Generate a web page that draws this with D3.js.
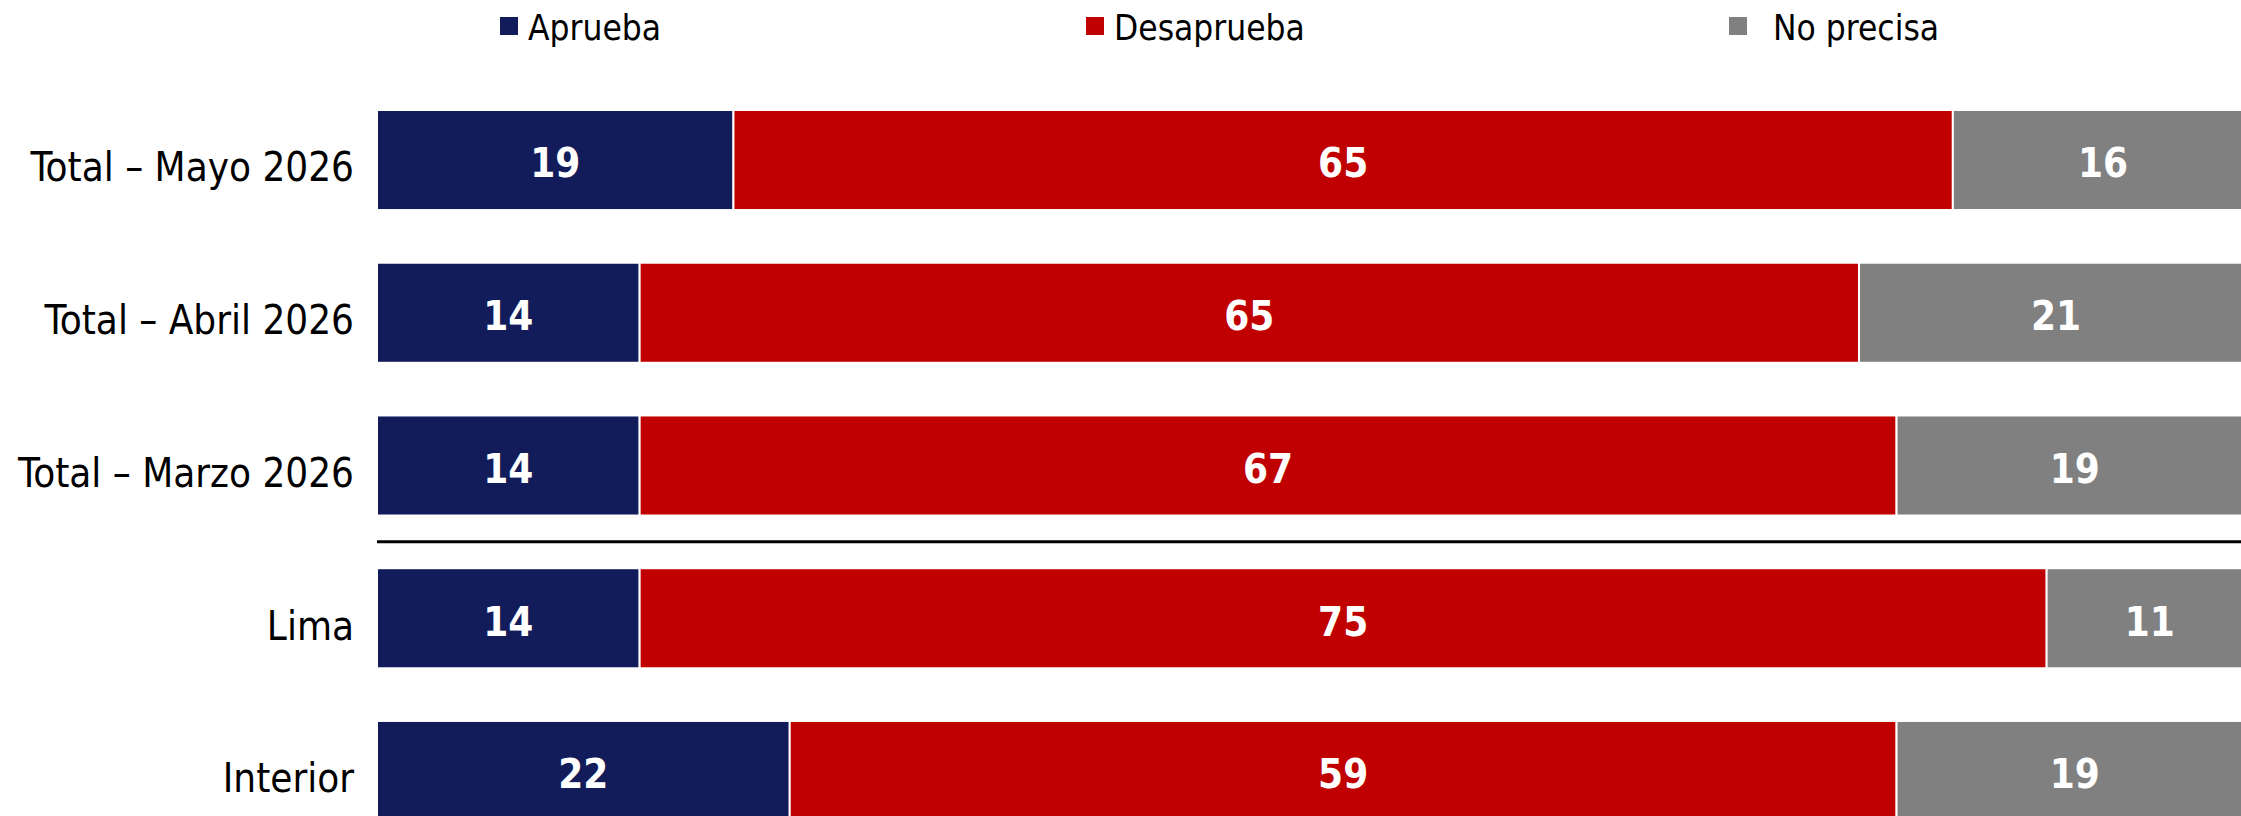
<!DOCTYPE html>
<html>
<head>
<meta charset="UTF-8">
<script src="https://d3js.org/d3.v7.min.js"></script>
<style>
  body { margin: 0; background: #fff; }
  text { font-family: "Liberation Sans Narrow", "DejaVu Sans Condensed", "Roboto", sans-serif; }
</style>
</head>
<body>
<svg id="chart"></svg>
<script>
const categories = ["Total – Mayo 2026", "Total – Abril 2026", "Total – Marzo 2026", "Lima", "Interior"];
const series = ["Aprueba", "Desaprueba", "No precisa"];
const aprueba    = [19, 14, 14, 14, 22];
const desaprueba = [65, 65, 67, 75, 59];
const noPrecisa  = [16, 21, 19, 11, 19];
const colors = ["#131c5a", "#c00000", "#808080"];

const width = 2241, height = 816;
const svg = d3.select("#chart").attr("width", width).attr("height", height);

// rows as objects for the stack
const rows = categories.map((c, i) => ({cat: c, "Aprueba": aprueba[i], "Desaprueba": desaprueba[i], "No precisa": noPrecisa[i]}));
const stacked = d3.stack().keys(series)(rows);

const x = d3.scaleLinear().domain([0, 100]).range([377, 2253]);
const y = d3.scaleBand().domain(categories).range([110, 821]).paddingInner(0.345).paddingOuter(0);
const color = d3.scaleOrdinal().domain(series).range(colors);

const layers = svg.append("g").selectAll("g")
  .data(stacked).enter().append("g")
  .attr("fill", d => color(d.key));

layers.selectAll("rect")
  .data(d => d).enter().append("rect")
  .attr("x", d => x(d[0]))
  .attr("y", d => y(d.data.cat))
  .attr("width", d => x(d[1]) - x(d[0]))
  .attr("height", y.bandwidth())
  .attr("stroke", "#fff")
  .attr("stroke-width", 2);

// value labels
layers.selectAll("text")
  .data(d => d).enter().append("text")
  .attr("x", d => (x(d[0]) + x(d[1])) / 2)
  .attr("y", d => y(d.data.cat) + y.bandwidth() / 2 + 3)
  .attr("dy", "0.36em")
  .attr("text-anchor", "middle")
  .attr("fill", "#fff")
  .attr("font-weight", "bold")
  .attr("font-size", "40px")
  .text(d => d[1] - d[0]);

// category labels
svg.append("g").selectAll("text")
  .data(categories).enter().append("text")
  .attr("x", 354)
  .attr("y", d => y(d) + y.bandwidth() / 2 + 7)
  .attr("dy", "0.36em")
  .attr("text-anchor", "end")
  .attr("fill", "#000")
  .attr("font-size", "40px")
  .text(d => d);

// separator between totals and Lima/Interior
const sepY = (y(categories[2]) + y.bandwidth() + y(categories[3])) / 2;
svg.append("line")
  .attr("x1", x(0)).attr("x2", width)
  .attr("y1", sepY).attr("y2", sepY)
  .attr("stroke", "#000").attr("stroke-width", 3);

// legend
const legendX = [500, 1086, 1729];
const legendTextX = [528, 1114, 1773];
const legend = svg.append("g");
legend.selectAll("rect").data(series).enter().append("rect")
  .attr("x", (d, i) => legendX[i]).attr("y", 17)
  .attr("width", 18).attr("height", 18)
  .attr("fill", d => color(d));
legend.selectAll("text").data(series).enter().append("text")
  .attr("x", (d, i) => legendTextX[i]).attr("y", 40)
  .attr("font-size", "35px")
  .attr("fill", "#000")
  .text(d => d);
</script>
</body>
</html>
